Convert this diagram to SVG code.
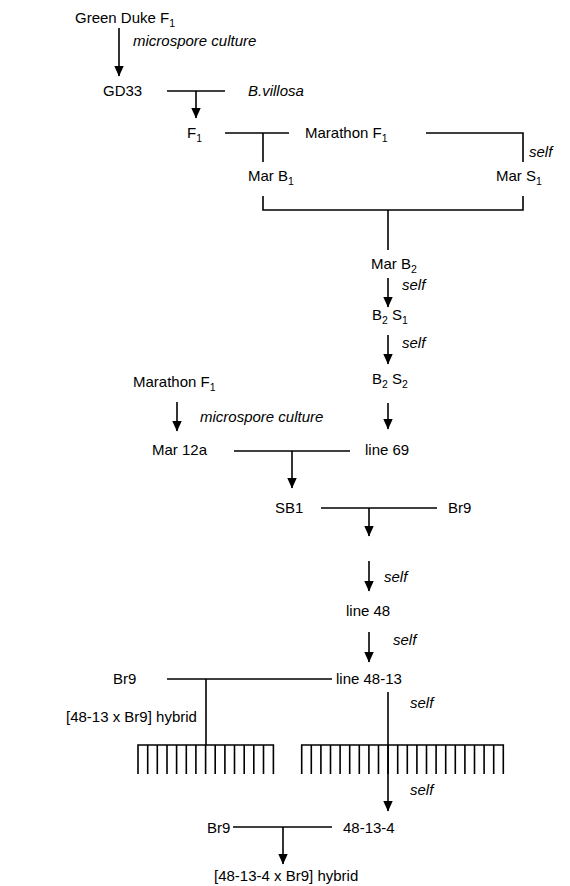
<svg xmlns="http://www.w3.org/2000/svg" width="570" height="886" viewBox="0 0 570 886">
<style>
text{font-family:"Liberation Sans",Arial,sans-serif;font-size:15px;fill:#000}
.i{font-style:italic}
.s{font-size:10.5px}
line,polyline{stroke:#000;stroke-width:1.6;fill:none}
</style>
<defs>
<marker id="ah" markerUnits="userSpaceOnUse" markerWidth="11" markerHeight="10" refX="10" refY="5" orient="auto" viewBox="0 0 11 10">
<path d="M0,0.3 L10.5,5 L0,9.7 Z" fill="#000"/>
</marker>
</defs>
<g id="connectors">
<line x1="119" y1="28" x2="119" y2="76" marker-end="url(#ah)"/>
<line x1="167" y1="91" x2="225" y2="91"/>
<line x1="196" y1="91" x2="196" y2="118" marker-end="url(#ah)"/>
<line x1="225" y1="133" x2="289" y2="133"/>
<line x1="263" y1="133" x2="263" y2="162"/>
<polyline points="426,133 523,133 523,162"/>
<polyline points="263,196 263,210 523,210 523,196"/>
<line x1="388" y1="210" x2="388" y2="250"/>
<line x1="388" y1="278" x2="388" y2="307" marker-end="url(#ah)"/>
<line x1="388" y1="335" x2="388" y2="364" marker-end="url(#ah)"/>
<line x1="388" y1="403" x2="388" y2="429" marker-end="url(#ah)"/>
<line x1="177" y1="402" x2="177" y2="431" marker-end="url(#ah)"/>
<line x1="234" y1="451" x2="350" y2="451"/>
<line x1="292" y1="451" x2="292" y2="488" marker-end="url(#ah)"/>
<line x1="321" y1="508" x2="437" y2="508"/>
<line x1="369" y1="508" x2="369" y2="536" marker-end="url(#ah)"/>
<line x1="369" y1="561" x2="369" y2="591" marker-end="url(#ah)"/>
<line x1="369" y1="632" x2="369" y2="662" marker-end="url(#ah)"/>
<line x1="167" y1="679" x2="332" y2="679"/>
<line x1="206" y1="679" x2="206" y2="745"/>
<line x1="388" y1="692" x2="388" y2="811" marker-end="url(#ah)"/>
<line x1="233" y1="827" x2="332" y2="827"/>
<line x1="283" y1="827" x2="283" y2="864" marker-end="url(#ah)"/>
</g>
<g id="comb-left">
<path d="M138,774 V745 H273.4 V774 M147.7,745 V774 M157.3,745 V774 M167,745 V774 M176.6,745 V774 M186.3,745 V774 M195.9,745 V774 M205.6,745 V774 M215.2,745 V774 M224.9,745 V774 M234.5,745 V774 M244.2,745 V774 M253.8,745 V774 M263.5,745 V774" stroke="#000" stroke-width="1.6" fill="none"/>
</g>
<g id="comb-right">
<path d="M301.7,774 V745 H503.3 V774 M311.3,745 V774 M320.9,745 V774 M330.5,745 V774 M340.1,745 V774 M349.7,745 V774 M359.3,745 V774 M368.9,745 V774 M378.5,745 V774 M388.1,745 V774 M397.7,745 V774 M407.3,745 V774 M416.9,745 V774 M426.5,745 V774 M436.1,745 V774 M445.7,745 V774 M455.3,745 V774 M464.9,745 V774 M474.5,745 V774 M484.1,745 V774 M493.7,745 V774" stroke="#000" stroke-width="1.6" fill="none"/>
</g>
<g id="green-duke"><text x="75" y="23">Green Duke F<tspan class="s" dy="4">1</tspan></text></g>
<g id="lbl-ms1"><text class="i" x="133" y="46">microspore culture</text></g>
<g id="gd33"><text x="103" y="96">GD33</text></g>
<g id="bvillosa"><text class="i" x="248" y="96">B.villosa</text></g>
<g id="f1"><text x="187" y="138">F<tspan class="s" dy="4">1</tspan></text></g>
<g id="marathon1"><text x="305" y="138">Marathon F<tspan class="s" dy="4">1</tspan></text></g>
<g id="lbl-self1"><text class="i" x="529" y="157">self</text></g>
<g id="marb1"><text x="248" y="181">Mar B<tspan class="s" dy="4">1</tspan></text></g>
<g id="mars1"><text x="496" y="181">Mar S<tspan class="s" dy="4">1</tspan></text></g>
<g id="marb2"><text x="371" y="269">Mar B<tspan class="s" dy="4">2</tspan></text></g>
<g id="lbl-self2"><text class="i" x="402" y="290">self</text></g>
<g id="b2s1"><text x="372" y="320">B<tspan class="s" dy="4">2</tspan><tspan dy="-4"> S</tspan><tspan class="s" dy="4">1</tspan></text></g>
<g id="lbl-self3"><text class="i" x="402" y="348">self</text></g>
<g id="b2s2"><text x="372" y="384">B<tspan class="s" dy="4">2</tspan><tspan dy="-4"> S</tspan><tspan class="s" dy="4">2</tspan></text></g>
<g id="marathon2"><text x="133" y="387">Marathon F<tspan class="s" dy="4">1</tspan></text></g>
<g id="lbl-ms2"><text class="i" x="200" y="422">microspore culture</text></g>
<g id="mar12a"><text x="152" y="455">Mar 12a</text></g>
<g id="line69"><text x="365" y="455">line 69</text></g>
<g id="sb1"><text x="275" y="513">SB1</text></g>
<g id="br9a"><text x="448" y="513">Br9</text></g>
<g id="lbl-self4"><text class="i" x="384" y="582">self</text></g>
<g id="line48"><text x="346" y="616">line 48</text></g>
<g id="lbl-self5"><text class="i" x="393" y="645">self</text></g>
<g id="line4813"><text x="336" y="684">line 48-13</text></g>
<g id="br9b"><text x="113" y="684">Br9</text></g>
<g id="hybrid1"><text x="66" y="722">[48-13 x Br9] hybrid</text></g>
<g id="lbl-self6"><text class="i" x="410" y="708">self</text></g>
<g id="lbl-self7"><text class="i" x="410" y="795">self</text></g>
<g id="br9c"><text x="207" y="833">Br9</text></g>
<g id="n48134"><text x="343" y="833">48-13-4</text></g>
<g id="hybrid2"><text x="214" y="881">[48-13-4 x Br9] hybrid</text></g>
</svg>
